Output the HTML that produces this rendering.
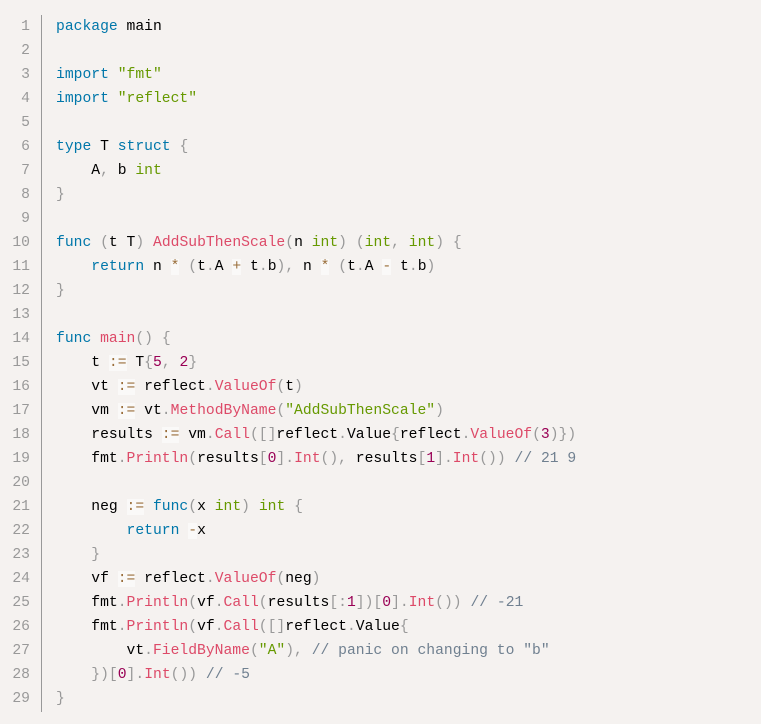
<!DOCTYPE html>
<html><head><meta charset="utf-8"><style>
html,body{margin:0;padding:0;background:#f5f2f0;}
body{width:761px;height:724px;overflow:hidden;position:relative;}
.ln{position:absolute;left:0;top:15px;width:30px;text-align:right;color:#999;font:14.7px/24px "Liberation Mono",monospace;}
.bar{position:absolute;left:41px;top:15px;width:1px;height:697px;background:#999;}
pre{position:absolute;left:56px;top:15px;margin:0;font:14.7px/24px "Liberation Mono",monospace;color:#000;}
.k{color:#07a}.f{color:#DD4A68}.b{color:#690}.s{color:#690}.n{color:#905}.c{color:#708090}.p{color:#999}.o{color:#9a6e3a;background:rgba(255,255,255,.5)}
</style></head><body>
<div class="ln">1<br>2<br>3<br>4<br>5<br>6<br>7<br>8<br>9<br>10<br>11<br>12<br>13<br>14<br>15<br>16<br>17<br>18<br>19<br>20<br>21<br>22<br>23<br>24<br>25<br>26<br>27<br>28<br>29</div>
<div class="bar"></div>
<pre><span class="k">package</span> main

<span class="k">import</span> <span class="s">"fmt"</span>
<span class="k">import</span> <span class="s">"reflect"</span>

<span class="k">type</span> T <span class="k">struct</span> <span class="p">{</span>
    A<span class="p">,</span> b <span class="b">int</span>
<span class="p">}</span>

<span class="k">func</span> <span class="p">(</span>t T<span class="p">)</span> <span class="f">AddSubThenScale</span><span class="p">(</span>n <span class="b">int</span><span class="p">)</span> <span class="p">(</span><span class="b">int</span><span class="p">,</span> <span class="b">int</span><span class="p">)</span> <span class="p">{</span>
    <span class="k">return</span> n <span class="o">*</span> <span class="p">(</span>t<span class="p">.</span>A <span class="o">+</span> t<span class="p">.</span>b<span class="p">),</span> n <span class="o">*</span> <span class="p">(</span>t<span class="p">.</span>A <span class="o">-</span> t<span class="p">.</span>b<span class="p">)</span>
<span class="p">}</span>

<span class="k">func</span> <span class="f">main</span><span class="p">()</span> <span class="p">{</span>
    t <span class="o">:=</span> T<span class="p">{</span><span class="n">5</span><span class="p">,</span> <span class="n">2</span><span class="p">}</span>
    vt <span class="o">:=</span> reflect<span class="p">.</span><span class="f">ValueOf</span><span class="p">(</span>t<span class="p">)</span>
    vm <span class="o">:=</span> vt<span class="p">.</span><span class="f">MethodByName</span><span class="p">(</span><span class="s">"AddSubThenScale"</span><span class="p">)</span>
    results <span class="o">:=</span> vm<span class="p">.</span><span class="f">Call</span><span class="p">([]</span>reflect<span class="p">.</span>Value<span class="p">{</span>reflect<span class="p">.</span><span class="f">ValueOf</span><span class="p">(</span><span class="n">3</span><span class="p">)})</span>
    fmt<span class="p">.</span><span class="f">Println</span><span class="p">(</span>results<span class="p">[</span><span class="n">0</span><span class="p">].</span><span class="f">Int</span><span class="p">(),</span> results<span class="p">[</span><span class="n">1</span><span class="p">].</span><span class="f">Int</span><span class="p">())</span> <span class="c">// 21 9</span>

    neg <span class="o">:=</span> <span class="k">func</span><span class="p">(</span>x <span class="b">int</span><span class="p">)</span> <span class="b">int</span> <span class="p">{</span>
        <span class="k">return</span> <span class="o">-</span>x
    <span class="p">}</span>
    vf <span class="o">:=</span> reflect<span class="p">.</span><span class="f">ValueOf</span><span class="p">(</span>neg<span class="p">)</span>
    fmt<span class="p">.</span><span class="f">Println</span><span class="p">(</span>vf<span class="p">.</span><span class="f">Call</span><span class="p">(</span>results<span class="p">[:</span><span class="n">1</span><span class="p">])[</span><span class="n">0</span><span class="p">].</span><span class="f">Int</span><span class="p">())</span> <span class="c">// -21</span>
    fmt<span class="p">.</span><span class="f">Println</span><span class="p">(</span>vf<span class="p">.</span><span class="f">Call</span><span class="p">([]</span>reflect<span class="p">.</span>Value<span class="p">{</span>
        vt<span class="p">.</span><span class="f">FieldByName</span><span class="p">(</span><span class="s">"A"</span><span class="p">),</span> <span class="c">// panic on changing to "b"</span>
    <span class="p">})[</span><span class="n">0</span><span class="p">].</span><span class="f">Int</span><span class="p">())</span> <span class="c">// -5</span>
<span class="p">}</span></pre>
</body></html>
